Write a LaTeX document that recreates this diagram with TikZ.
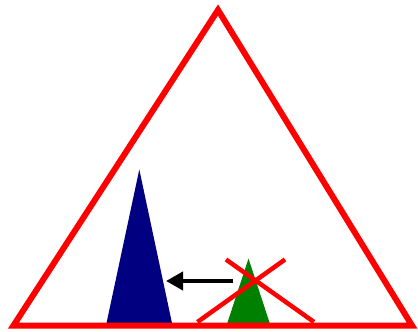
\documentclass[tikz,border=0pt]{standalone}
\usetikzlibrary{arrows.meta}
\definecolor{navyblue}{RGB}{0,0,128}
\definecolor{darkgreen}{RGB}{0,128,0}
\begin{document}
\begin{tikzpicture}[x=1pt, y=-1pt]
  \useasboundingbox (0,0) rectangle (418,332);
  % small triangles
  \fill[navyblue] (106,325.5) -- (139.3,169.5) -- (172.5,325.5) -- cycle;
  \fill[darkgreen] (226.5,325.5) -- (248.5,258.5) -- (270.5,325.5) -- cycle;
  % big triangle
  \draw[red, line width=6pt, line join=miter] (13.5,325.5) -- (218,10) -- (412,325.5) -- cycle;
  % cross over the green one
  \draw[red, line width=4.5pt] (226,259.5) -- (314,322);
  \draw[red, line width=4.5pt] (285,259.5) -- (197.5,322);
  % arrow
  \draw[line width=4pt, -{Triangle[length=17pt, width=18pt]}] (233,281) -- (166,281);
\end{tikzpicture}
\end{document}
